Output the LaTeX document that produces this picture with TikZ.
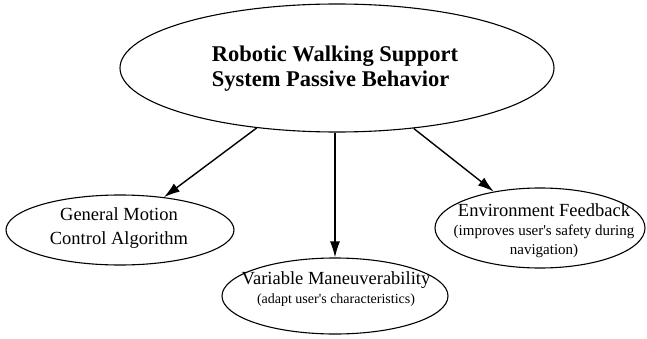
\documentclass[tikz,border=0pt]{standalone}
\usepackage{fontspec}
\setmainfont{Liberation Serif}
\usetikzlibrary{shapes.geometric,arrows.meta}

\newcommand\noteSize{\fontsize{14}{19}\selectfont}
\newcommand\noteSizeB{\fontsize{15}{19}\selectfont}

\tikzset{
  oval/.style={draw, ellipse, line width=1.1pt, inner sep=0pt},
  link/.style={line width=1.4pt, -{Latex[length=16pt,width=10pt]}},
  bigtxt/.style={font=\fontsize{18.5}{19}\selectfont, align=center}
}

\begin{document}
\begin{tikzpicture}[x=1pt,y=1pt]
\useasboundingbox (0,0) rectangle (647,338);

% Passive behavior
\node[oval, minimum width=434pt, minimum height=128pt] (passive) at (337,270) {};
\node[align=left, font=\fontsize{22.5}{25}\selectfont\bfseries] (passivetxt) at (335,269)
  {Robotic Walking Support\\System Passive Behavior};

% General motion
\node[oval, minimum width=228pt, minimum height=70pt] (motion) at (120,108) {};
\node[bigtxt, font=\fontsize{18.5}{24}\selectfont] (motiontxt) at (119,110) {General Motion\\Control Algorithm};

% Maneuverability
\node[oval, minimum width=226pt, minimum height=76pt] (maneuver) at (335,42) {};
\node[bigtxt] (maneuvertxt) at (336,49)
  {Variable Maneuverability\\{\noteSize(adapt user\textquotesingle s characteristics)}};

% Environment
\node[oval, minimum width=210pt, minimum height=80pt] (env) at (540,110) {};
\node[bigtxt] (envtxt) at (544,107)
  {Environment Feedback\\{\noteSizeB(improves user\textquotesingle s safety during}\\{\noteSizeB navigation)}};

\draw[link] (passive) -- (motion);
\draw[link] (passive.south -| maneuver.north) -- (maneuver.north);
\draw[link] (passive) -- (env);

\end{tikzpicture}
\end{document}
